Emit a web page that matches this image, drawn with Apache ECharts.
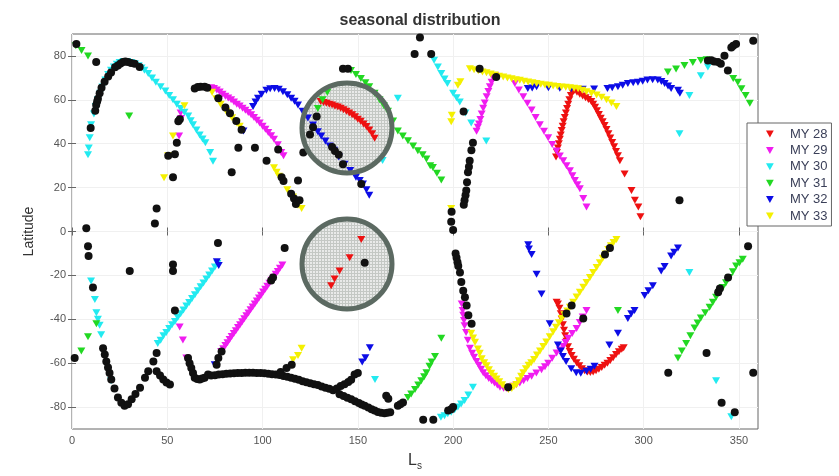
<!DOCTYPE html>
<html>
<head>
<meta charset="utf-8">
<script src="https://cdn.jsdelivr.net/npm/echarts@6/dist/echarts.min.js"></script>
<style>
  html, body { margin: 0; padding: 0; background: #fff; }
  #chart { width: 839px; height: 476px; }
</style>
</head>
<body>
<div id="chart"></div>
<script>
// Axis ticks
const xTicks = [0, 50, 100, 150, 200, 250, 300, 350];
const yTicks = [-80, -60, -40, -20, 0, 20, 40, 60, 80];

const yearNames = ['MY 28', 'MY 29', 'MY 30', 'MY 31', 'MY 32', 'MY 33'];

// [Ls, latitude] detections per Mars year
const my28 = [
  [130.5,59.2],[132,58.8],[133.5,58.4],[135,58],[136.5,57.6],[138,57.1],[139.5,56.7],[141,56.2],[142.5,55.5],[144,54.8],
  [145.5,54],[147,53.2],[148.5,52.3],[150,51.2],[151.5,50.2],[153,49],[154.5,47.8],[156,46.3],[157.5,44.6],[158.8,42.5],
  [136,-24.7],[137.8,-21.7],[140.4,-18],[145.7,-12],[151.8,-3.7],
  [254,34],[254.5,36],[255,38],[255.5,40],[256,42],[256.5,44],[257,46],[257.5,48],[258,50],[258.6,52],[259.2,54],
  [259.8,56],[260.4,58],[261,60],[261.8,62],[262.6,63.5],[263.5,64.3],
  [265,63.5],[266.5,62.6],[268,61.8],[269.5,61],[271,60.2],[272.5,59.2],[273.5,58],[274.5,56.6],[275.5,55],[276.5,53.3],
  [277.5,51.6],[278.5,50],[279.5,48.3],[280.5,46.5],[281.5,44.6],[282.5,42.6],[283.5,40.6],[284.5,38.6],[285.5,36.5],
  [286.5,34.5],[287.5,32.2],[290,26.2],[293.6,18.7],[295.4,14.2],[297.2,11.2],[298.3,6.7],
  [254.3,-32.2],[255,-33],[255.8,-35],[256.5,-37.5],[257,-40],[257.6,-42.5],[258.2,-45],[258.8,-47.5],[259.5,-50],
  [260.3,-52.5],[261.2,-54.7],[262.2,-56.5],[263.4,-58.2],[264.8,-59.8],[266.2,-61.2],[267.6,-62.5],[269,-63.4],
  [270.5,-64],[272,-64.2],[273.5,-64],[275,-63.5],[276.5,-62.8],[278,-62],[279.5,-61],[281,-60],[282.5,-58.8],
  [284,-57.5],[285.5,-56],[287,-54.8],[288.5,-53.7],[289.5,-53]
];
const my29 = [
  [57,54],[57.2,51.5],[56.2,43.5],
  [73,65.5],[74.5,65.2],[76,64.5],[77.5,63.6],[79,62.6],[80.5,61.6],[82,60.8],[83.5,60],[85,59],[86.5,58],[88,57.2],
  [89.5,56.2],[91,55.2],[92.5,54.2],[94,53.2],[95.5,52],[97,50.7],[98.5,49.4],[100,48],[101.5,46.6],[103,45.1],
  [104.5,43.6],[106,42],[108,39.5],[109.8,36],[111,34.5],
  [56.5,-43.5],[58.2,-49.4],[60,-57.7],
  [78.3,-54.7],[79.4,-53.4],[80.5,-52],[81.6,-50.7],[82.7,-49.2],[83.8,-47.9],[84.9,-46.5],[86,-45.2],[87.1,-43.8],
  [88.2,-42.5],[89.3,-41.1],[90.4,-39.8],[91.5,-38.4],[92.6,-37.1],[93.7,-35.7],[94.8,-34.4],[95.9,-33],[97,-31.7],
  [98.1,-30.3],[99.2,-29],[100.3,-27.6],[101.4,-26.3],[102.5,-24.9],[103.6,-23.6],[104.7,-22.2],[105.8,-20.9],
  [106.9,-19.5],[108,-18.2],[109.1,-16.8],[110.4,-15.3],
  [212.3,45.7],[213,47.5],[213.6,49],[214.3,51],[215,53.5],[215.8,56.2],[216.6,58.6],[217.6,61.4],[218.5,63.8],
  [219.3,66],[220.2,68],[221,70],[222,71],
  [232.4,67.4],[234.5,64.5],[236.8,61.4],[239,58.4],[241.2,55.4],[243.3,52],[245.5,48.7],[247.7,45.7],[249.9,42.7],
  [252,39.7],[254.3,36.7],[256,34.4],[257.8,32.2],[259.5,30],[261.3,27.7],[262.6,25.4],[263.9,23.2],[265.2,21.3],
  [266.5,19.5],[268.3,15],[270,11.2],
  [204.5,-33],[205,-36],[205.3,-38.2],[205.7,-40.5],[206,-43],[206.8,-46],[207.7,-49.5],[208.8,-53.2],[210,-55.5],
  [211,-57.3],[212.3,-59.2],[213.5,-61],[214.7,-62.8],[215.8,-64.4],[217.2,-65.7],[218.7,-67],[220.2,-68],[221.7,-69],
  [223.2,-70],[224.6,-71],[226.5,-71.4],[228.2,-71.5],[229.8,-71],[231.5,-70.5],[233.2,-69.8],[235,-69],[237,-68],
  [239,-67],[241.2,-66],[243.7,-64.5],[246.4,-63],[248.2,-61.6],[249.9,-60],[252,-57.8],[254.3,-55.4],[256,-54],
  [257.8,-52.4],[259,-50.6],[260.4,-48.7],[262.5,-46.5],[264.8,-44.2],[266.5,-41.5],[268,-39],[270,-36]
];
const my30 = [
  [8.4,35],[8.8,38],[9.3,42.7],[10,48.6],[11.5,53.5],[12.5,57],[13.6,60],[14.8,63],[16,65.8],[17.5,69],[19,71.5],
  [20.5,73.5],[22,75],[23.5,76.2],[25,77],[27,77.5],[29,77.5],[31,77],[33,76.4],[35,75.5],[36.5,74.5],[38,73.5],
  [40,72],[42,70],[44,68],[46.5,66],[49,64],[51,62],[53,60],[55,58],[57,56],[59,54.3],[61,52.6],[62.3,50.5],
  [63.5,48.6],[65.3,46.3],[67,44],[68.5,42.2],[70,40.4],[72.5,36],[74,32],
  [10,-22.5],[12,-31],[12.8,-37],[13.6,-40],[14.5,-42.7],[15.3,-47],[20.5,-68],
  [45,-51],[46.5,-49.5],[48,-47.5],[49.5,-46],[51,-44.2],[52.5,-42.5],[54,-41],[55.5,-39.2],[57,-37.5],[58.5,-35.8],
  [60,-34],[61.5,-32.3],[63,-30.5],[64.5,-28.8],[66,-27],[67.5,-25.2],[69,-23.5],[70.5,-21.6],[72,-19.8],[73.5,-18],
  [75,-16.2],[76.3,-14.6],
  [159,-67.4],[163,32.4],[171,60.7],
  [190,78],[192,75],[193.8,72],[195.5,69.5],[197,67.4],[200,63],[201.8,61],[203.5,59],[206.5,54],[209.5,49.4],[217.4,41.2],
  [193.6,-84.6],[195.5,-84],[197.2,-83],[199,-82.4],[200.8,-81.2],[202.5,-80],[204.2,-78.6],[206,-77],[208,-74.5],[210.4,-71],
  [318.8,44.5],[324,62],[330,71],[333.7,75],[324,-18.7],[338,-68],[346,-84.4]
];
const my31 = [
  [2,84.6],[5,82.5],[8.4,80],[30,52.6],
  [4.9,-54.4],[8.4,-48],[12.8,-42],
  [129,56],[131.5,60],[134,63.5],
  [146.4,73.4],[149,71.5],[151.6,69.7],[154,67.8],[156,66],[158.8,63],[161.4,60],[163.6,57.4],[165.8,54.8],[168.5,50.3],
  [171,45.8],[173.6,43.5],[176.3,41.3],[179,39],[181.5,36.8],[184,35],[186,33],[188,30],[189.4,29.2],[191.5,26.5],[193.8,23.5],
  [176.3,-75.6],[178,-74],[180,-72],[181.7,-70],[183.3,-68],[184.8,-66.2],[186,-64.4],[187.6,-61.4],[188.7,-59.5],
  [190.5,-57],[193.8,-48.7],
  [286.5,-36],
  [318,-57.6],[320,-54.5],[322.3,-51],[324.5,-47.5],[326.7,-44],[328.3,-41.7],[330,-39.4],[332.3,-37],[334.6,-34.5],
  [336.3,-32.2],[338,-30],[339.8,-27.8],[341.5,-25.5],[343.2,-23.3],[345,-21],[346.8,-18.3],[348.5,-15.7],[350.3,-14.2],[352,-12.7],
  [312.7,72.7],[317,74],[321.4,75.6],[325.8,77],[330,77.9],[333,78.3],[347,69.7],[349.4,68],[351.3,65],[353.5,62],[355.7,58.4]
];
const my32 = [
  [90,45.8],
  [95,57],[96.3,59],[97.6,60.7],[99.5,62.6],[102,64.4],[104,65],[106.3,65.2],[108.5,64.8],[110.7,63.7],[113,62.3],
  [115,60.7],[116.8,59.3],[118.6,57.7],[121,54.8],[123.8,51.7],[126.5,48.5],[129,45.5],[130.8,43.5],[133,41.2],
  [135.2,39],[137.5,37],[140,34],[143,30.7],[146,27.8],[149,24.7],[151,23.2],[152.7,21.7],[154.5,19],[156,16.5],
  [76,-13.8],[77,-15.5],[74.9,-60.7],
  [156.3,-53],[154,-57.5],[152.3,-59.5],
  [239.4,-6],[239.8,-8],[241.2,-10.5],[243.8,-19.5],[246.4,-28.5],[250.7,-42],[255,-51.7],[256.5,-54.5],[257.6,-57],
  [259.3,-59.2],[262,-62.5],[264.6,-64.4],[267,-64.6],[270,-63.7],[272.2,-62.8],[274.2,-61.4],
  [282,-51.7],[286.5,-46.4],[291.7,-39.7],[293.5,-37.5],[295.2,-36],[300.5,-29.2],[302.5,-27],[304.8,-24.7],
  [309.2,-18],[311,-16],[314.4,-11.2],[316,-9.5],[318,-7.5],
  [239.2,65.2],[241.5,65.4],[243.8,66],[250,65.5],[256,65.3],[262,65],[268,64.8],[274,64.9],
  [281,65.2],[283.5,65.5],[286.5,66],[289,66.7],[291.7,67.4],[294.5,67.8],[297,68],[299.5,68.5],[302,69],[304.7,69.2],
  [307.4,69],[309.3,68.3],[311,67.4],[312.8,66.3],[314.4,65.2],[318,64.4],[319,63]
];
const my33 = [
  [48.3,24.5],[50.4,34.5],[53,43.5],[59,57.3],
  [73.5,63.5],[75.7,60.5],[78,58],[81,54.7],[84,51.8],[86.5,49.5],[88,48],
  [106,29],[107.4,27],[108.6,25.2],[113,19],[116,15.7],[118.6,12],[120.5,10.5],
  [199,50],[199.3,53],[202.5,66.7],[203.8,68.2],[199,10.5],
  [208.8,74.2],[211,73.7],[213.2,73.2],[215.4,72.7],[217.5,72.3],[219.7,71.8],[221.9,71.3],[224.1,70.8],[226.3,70.4],
  [228.5,70],[230.7,69.6],[232.9,69.2],[235,68.9],[237.2,68.5],[239.4,68.1],[241.6,67.8],[243.8,67.4],[246,67.1],
  [248.2,66.8],[250.3,66.6],[252.5,66.3],[254.7,66.1],[256.9,65.9],[259.1,65.7],[261.3,65.5],[263.5,65.3],[265.6,65],
  [267.8,64.4],[270,63.7],[272.6,63],[275.3,62.2],[277.9,61.2],[280.5,60],[283.1,58.6],[285.7,57],
  [116,-58.4],[118.6,-56.5],[120.5,-53.2],
  [209.5,-46.4],[210.5,-48.5],[211.5,-50.5],[213,-53.5],[214,-55.5],[215,-58],[216.3,-59.8],[217.6,-61.2],[218.8,-63],
  [220,-64.6],[221.5,-66],[222.8,-67.2],[224.2,-68.5],[225.7,-69.8],[227.2,-71],[229,-72],[230.8,-71.5],[232,-70.5],
  [233.3,-69.7],[234.5,-68],[235.7,-66],[236.8,-64.4],[238.2,-62.6],[239.6,-61],[241,-59.8],[242.5,-58.3],[244,-56.3],
  [245.6,-54.5],[247.3,-52.4],[248.9,-50.3],[250.7,-48],[252.5,-45.7],[254,-43.6],[255.5,-41.6],[257,-39.7],
  [258.4,-37.9],[259.9,-36.2],[261.3,-34.5],[263,-32.2],[264.8,-29.9],[266.5,-27.7],[268.3,-25.4],[270,-23.2],
  [271.8,-21],[273.5,-18.7],[275.3,-16.4],[277,-14.2],[278.5,-12.2],[280,-10.2],[281.4,-8.2],[282.8,-6.5],
  [284.2,-5],[285.7,-3.7]
];
// Other tracked detections (black dots, not in legend)
const tracks = [
  [2.3,85.4],[12.7,77.2],[7.5,1.5],[8.4,-6.7],[8.7,-11.2],[11,-25.5],[1.4,-57.7],
  [9.8,47.2],[12.2,55],[12.7,57.7],[13.2,59.2],[13.6,60.5],[14.5,63],[15.5,65.5],[17.1,68.2],[19,70.6],[20.5,72.5],
  [22.6,74.9],[24.1,75.7],[25.5,76.6],[26.8,77.2],[28,77.5],[29.4,77.2],[31,76.8],[32.9,76.4],[35.5,75],
  [43.5,3.7],[44.4,10.5],[53,24.7],[50.5,34.5],[54,35.2],[55,40.4],[55.8,50.2],[56.6,51.2],
  [64.4,65.2],[66,65.8],[67.5,66],[69.6,66],[71,65.5],
  [76.8,60.7],[80.5,56.5],[82.9,53.9],[86.2,50.4],[89,46.4],[87.3,38.2],[96,38.2],[83.8,27],[102.1,32.2],[108.2,37.4],
  [110,24.7],[111,23],[115,17.2],[116.5,15],[117.5,12.5],[118.6,23.2],[119.4,14.2],[121.4,36],
  [124.9,44.2],[126.5,47.5],[128.4,52.4],[136.5,38.5],[138,36.7],[140,35],[142.2,30.7],[151.8,21.7],
  [142.2,74.2],[144.8,74.2],[153.6,-14.2],
  [182.6,88.4],[179.8,80.9],[188.5,80.9],[205.5,54.7],[213.9,74.2],[222.6,70.4],
  [210.4,40.4],[209.6,37],[208.7,32.2],[208.3,29.5],[207.8,27],[207.3,22.5],[206.9,18.7],[206.5,16.5],[206,14.2],
  [205.6,12.2],[199.2,9],[199,4.5],[200,0.7],[201.3,-10],[201.8,-12],[202.3,-14],[202.7,-15.7],[203.6,-18.7],
  [204.3,-23],[205.3,-27],[206.2,-30],[207.1,-33.7],[208,-38.2],[209.7,-42],
  [184.3,-85.8],[189.6,-85.8],[197.4,-81.6],[199,-81],[200,-80],[228.9,-71],
  [262.2,-33.7],[259.5,-37.4],[268.3,-39.7],[279.7,-10.5],[282.3,-7.5],
  [312.9,-64.4],[333,-55.4],[340.9,-78],[347.8,-82.4],[339.1,-27.7],[340,-26],[344.3,-21],[354.8,-6.7],[357.5,-64.4],[318.8,14.2],
  [333.7,77.9],[335.5,78],[337,77.5],[339,77.2],[340.5,76.5],[342.4,80.1],[344.2,73.4],[346,83.9],[347,84.6],[348.5,85.4],[357.5,86.9],
  [16.3,-53.2],[17.2,-56],[18,-59.2],[18.9,-62],[19.7,-64.5],[20.6,-67.4],[22.3,-71.5],[24.1,-75.7],[25.9,-78],
  [27.6,-79.4],[29.4,-78.7],[31.3,-76.4],[33.3,-74],[35.7,-71.2],[38.3,-66.7],[40,-63.7],[42.7,-59.2],[44.4,-55.4],
  [44.4,-63.7],[46.2,-65.6],[47.9,-67.4],[49.6,-68.8],[51.4,-69.7],
  [54,-36],[53,-15],[53,-18],[30.3,-18],[76.6,-5.2],[111.6,-7.5],[104.5,-22.3],[105.5,-21],
  [60.9,-57.7],[61.7,-60],[62.6,-62.2],[63.5,-64.5],[64.4,-66.7],[65.7,-67.2],[67,-67.4],[68.3,-67],[69.6,-66.7],
  [71.4,-65.2],[73,-65.6],[75.9,-60.7],[76.8,-57.7],[78.5,-54.7],
  [75,-65.5],[77,-65.2],[79,-65],[81,-64.8],[83,-64.7],[85,-64.6],[87,-64.5],[89,-64.5],[91,-64.4],[93,-64.4],
  [95,-64.4],[97,-64.5],[99,-64.5],[101,-64.6],[103,-64.8],[105,-65],[107,-65.2],[109,-65.4],[111,-65.8],[113,-66.2],
  [115,-66.6],[117,-67.1],[119,-67.6],[121,-68.2],[123,-68.7],[125,-69.2],[127,-69.6],[129,-70],[131,-70.6],
  [133,-71.2],[135,-71.7],[137,-72.3],[139,-71.5],[141,-70.4],[143,-69.6],[145,-68.6],[146.5,-67.5],[148.3,-65.2],[150,-64.5],
  [109.5,-64],[112.6,-62.2],[115.3,-60.7],
  [140.4,-74.2],[142.5,-75],[144.5,-75.8],[146.5,-76.4],[148.5,-77.3],[150.5,-78.2],[152,-78.8],[153.6,-79.4],
  [155.5,-80.2],[157.2,-81],[158.8,-81.6],[160.5,-82.2],[162.2,-82.6],[164,-82.8],[165.5,-82.6],[167,-82.4],
  [164.9,-74.9],[166,-76.2],[171,-79.4],[172.3,-78.7],[173.7,-77.9]
];

const yearData = [my28, my29, my30, my31, my32, my33];
const yearColors = ['#ee1111', '#f01cf0', '#22eaf0', '#22d822', '#0c0ce6', '#f4f000'];

// Dotted fill for the highlight circles
function dotPattern() {
  const c = document.createElement('canvas');
  c.width = 3; c.height = 3;
  const g = c.getContext('2d');
  g.fillStyle = '#e9eae9';
  g.fillRect(0, 0, 3, 3);
  g.fillStyle = '#c4c8c4';
  g.fillRect(0, 0, 3, 1);
  g.fillRect(0, 0, 1, 3);
  return c;
}

const chart = echarts.init(document.getElementById('chart'), null, { renderer: 'canvas' });

const gridRect = { left: 72, top: 34, width: 686, height: 401 };

const axisCommon = {
  axisLine: { show: false },
  axisTick: { show: true, inside: true, length: 4, lineStyle: { color: '#666' } },
  splitLine: { show: false }
};

const series = yearNames.map((name, i) => ({
  name: name,
  type: 'scatter',
  data: yearData[i],
  symbol: 'triangle',
  symbolRotate: 180,
  symbolSize: [8, 7],
  itemStyle: { color: yearColors[i], opacity: 1 },
  z: 3
}));
series.push({
  name: 'tracks',
  type: 'scatter',
  data: tracks,
  symbol: 'circle',
  symbolSize: 8,
  itemStyle: { color: '#111', opacity: 1 },
  z: 4
});

const circleCenters = [[347, 128], [347, 264]];
const graphics = [];
circleCenters.forEach(([cx, cy]) => {
  graphics.push({
    type: 'circle', shape: { cx: cx, cy: cy, r: 45 }, z: 1,
    style: { fill: { image: dotPattern(), repeat: 'repeat' } }
  });
  graphics.push({
    type: 'circle', shape: { cx: cx, cy: cy, r: 45 }, z: 10,
    style: { fill: null, stroke: '#5c6a62', lineWidth: 5 }
  });
});

chart.setOption({
  animation: false,
  backgroundColor: '#fff',
  title: {
    text: 'seasonal distribution',
    left: 415, top: 8, textAlign: 'center',
    textStyle: { fontFamily: 'Liberation Sans, Arial, sans-serif', fontSize: 16, fontWeight: 'bold', color: '#333' }
  },
  grid: Object.assign({ show: true, borderColor: '#666', borderWidth: 1, backgroundColor: 'transparent' }, gridRect),
  legend: {
    data: yearNames,
    orient: 'vertical',
    left: 747, top: 123,
    padding: [4, 4, 3, 19],
    itemGap: 2.4,
    itemWidth: 8, itemHeight: 7,
    icon: 'path://M0,0L10,0L5,9Z',
    borderColor: '#666', borderWidth: 1,
    backgroundColor: '#fff',
    textStyle: { fontFamily: 'Liberation Sans, Arial, sans-serif', fontSize: 13, lineHeight: 14, color: '#3a3f58', padding: [0, 0, 0, 11] },
    selectedMode: false
  },
  xAxis: [
    Object.assign({}, axisCommon, {
      type: 'value', min: 0, max: 360, position: 'bottom',
      axisTick: Object.assign({}, axisCommon.axisTick, { customValues: xTicks }),
      axisLabel: { customValues: xTicks, color: '#555', fontSize: 11, margin: 6, fontFamily: 'Liberation Sans, Arial, sans-serif' },
      splitLine: { show: true, lineStyle: { color: '#f0f0f0', width: 1 } },
      name: '{L|L}{s|s}',
      nameLocation: 'middle',
      nameGap: 22,
      nameTextStyle: {
        rich: {
          L: { fontSize: 16, color: '#333', fontFamily: 'Liberation Sans, Arial, sans-serif' },
          s: { fontSize: 10, color: '#333', padding: [10, 0, 0, 0], fontFamily: 'Liberation Sans, Arial, sans-serif' }
        }
      }
    }),
    Object.assign({}, axisCommon, {
      type: 'value', min: 0, max: 360, position: 'top',
      axisTick: Object.assign({}, axisCommon.axisTick, { customValues: xTicks }),
      axisLabel: { show: false }
    })
  ],
  yAxis: [
    Object.assign({}, axisCommon, {
      type: 'value', min: -90, max: 90, position: 'left',
      axisTick: Object.assign({}, axisCommon.axisTick, { customValues: yTicks }),
      axisLabel: { customValues: yTicks, color: '#555', fontSize: 11, margin: 6, fontFamily: 'Liberation Sans, Arial, sans-serif' },
      splitLine: { show: true, lineStyle: { color: '#f0f0f0', width: 1 } },
      name: 'Latitude',
      nameLocation: 'middle',
      nameGap: 36,
      nameTextStyle: { fontSize: 14, color: '#333', fontFamily: 'Liberation Sans, Arial, sans-serif' }
    }),
    Object.assign({}, axisCommon, {
      type: 'value', min: -90, max: 90, position: 'right',
      axisTick: Object.assign({}, axisCommon.axisTick, { customValues: yTicks }),
      axisLabel: { show: false }
    })
  ],
  graphic: graphics,
  series: series
});
</script>
</body>
</html>
